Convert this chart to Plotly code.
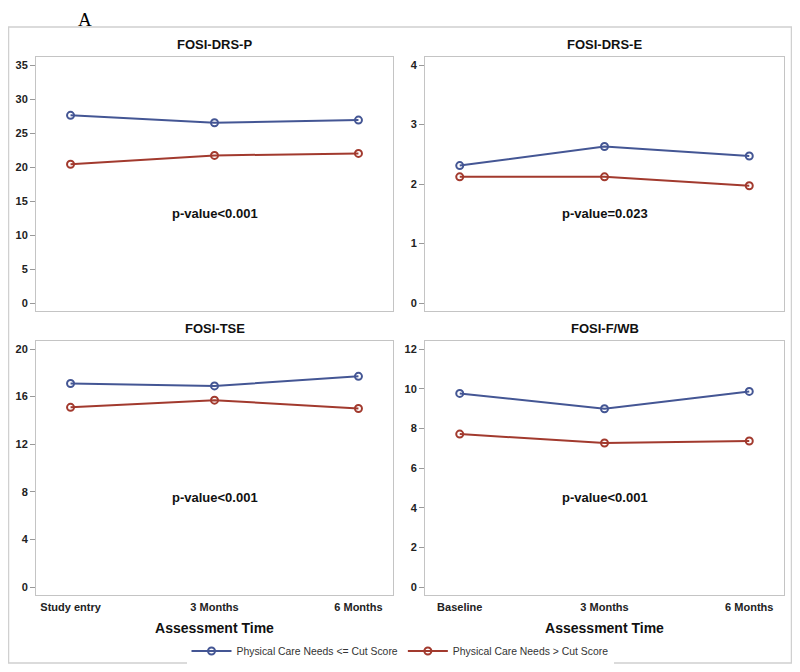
import plotly.graph_objects as go

# page has an 8px body margin; figure drawn inside it
OFF = 8
W, H = 784, 656


def px(x):
    return (x - OFF) / W


def py(y):
    return 1 - (y - OFF) / H


cats_left = ["Study entry", "3 Months", "6 Months"]
cats_right = ["Baseline", "3 Months", "6 Months"]

titles = ["FOSI-DRS-P", "FOSI-DRS-E", "FOSI-TSE", "FOSI-F/WB"]
pvalues = ["p-value<0.001", "p-value=0.023", "p-value<0.001", "p-value<0.001"]

low_drs_p = [27.6, 26.5, 26.9]
high_drs_p = [20.4, 21.7, 22.0]
low_drs_e = [2.31, 2.63, 2.47]
high_drs_e = [2.12, 2.12, 1.97]
low_tse = [17.1, 16.9, 17.7]
high_tse = [15.1, 15.7, 15.0]
low_fwb = [9.76, 8.99, 9.86]
high_fwb = [7.71, 7.26, 7.36]

series_names = ["Physical Care Needs <= Cut Score", "Physical Care Needs > Cut Score"]
colors = ["#445694", "#A23A2E"]

y_ticks = [[0, 5, 10, 15, 20, 25, 30, 35], [0, 1, 2, 3, 4],
           [0, 4, 8, 12, 16, 20], [0, 2, 4, 6, 8, 10, 12]]
y_max = [35, 4, 20, 12]

panels = [
    (cats_left, low_drs_p, high_drs_p),
    (cats_right, low_drs_e, high_drs_e),
    (cats_left, low_tse, high_tse),
    (cats_right, low_fwb, high_fwb),
]

# page-pixel boxes (left, right, top, bottom)
boxes = [(36, 393, 57, 311), (425, 784, 57, 311),
         (36, 393, 341, 595), (425, 784, 341, 595)]

fig = go.Figure()
frame_col = "#c4c4c4"
font_fam = "Arial, Liberation Sans, sans-serif"

for i, (cats, lo, hi) in enumerate(panels):
    n = "" if i == 0 else str(i + 1)
    xa, ya = "x" + n, "y" + n
    for vals, col, name in zip([lo, hi], colors, series_names):
        fig.add_trace(go.Scatter(
            x=cats, y=vals, mode="lines+markers", name=name,
            xaxis=xa, yaxis=ya, showlegend=(i == 0),
            line=dict(color=col, width=2),
            marker=dict(symbol="circle-open", size=7, color=col, line=dict(width=2)),
        ))
    l, r, t, b = boxes[i]
    span_px = (b - t) - 16
    unit = span_px / y_max[i]
    pad = 8 / unit
    show_x = i >= 2
    xdict = dict(
        domain=[px(l), px(r)], anchor=ya, type="category",
        range=[-0.24, 2.24], showgrid=False, zeroline=False,
        showline=True, mirror=True, linecolor=frame_col, linewidth=1,
        ticks="", showticklabels=show_x,
        tickfont=dict(family=font_fam, size=11, color="#222"),
    )
    if show_x:
        xdict["tickvals"] = cats
        xdict["ticktext"] = ["<b>%s</b>" % c for c in cats]
        xdict["ticklabelstandoff"] = 2
        xdict["title"] = dict(text="<b>Assessment Time</b>",
                              font=dict(family=font_fam, size=14, color="#111"), standoff=10)
    fig.layout["xaxis" + n] = xdict
    fig.layout["yaxis" + n] = dict(
        domain=[py(b), py(t)], anchor=xa,
        range=[-pad, y_max[i] + pad], tickvals=y_ticks[i],
        ticktext=["<b>%d</b>" % v for v in y_ticks[i]],
        showgrid=False, zeroline=False,
        showline=True, mirror=True, linecolor=frame_col, linewidth=1,
        ticks="outside", ticklen=5, tickcolor="#999",
        tickfont=dict(family=font_fam, size=11, color="#222"),
    )
    fig.add_annotation(x=px((l + r) / 2), y=py(t - 13), xref="paper", yref="paper",
                       xanchor="center", yanchor="middle",
                       text="<b>%s</b>" % titles[i], showarrow=False,
                       font=dict(family=font_fam, size=13, color="#111"))
    fig.add_annotation(x=px((l + r) / 2), y=py(t + 156), xref="paper", yref="paper",
                       xanchor="center", yanchor="middle",
                       text="<b>%s</b>" % pvalues[i], showarrow=False,
                       font=dict(family=font_fam, size=13, color="#111"))

fig.add_annotation(x=px(85), y=1.0, xref="paper", yref="paper",
                   xanchor="center", yanchor="top", borderpad=0,
                   text="A", showarrow=False,
                   font=dict(family="Liberation Serif, Times New Roman, serif", size=19, color="#000"))

fig.add_shape(type="rect", xref="paper", yref="paper",
              x0=px(8.5), x1=px(791.5), y0=py(663), y1=py(27),
              line=dict(color="#d0d0d0", width=1.5))

fig.update_layout(
    width=W, height=H, margin=dict(l=0, r=0, t=0, b=0, autoexpand=False),
    paper_bgcolor="white", plot_bgcolor="white",
    legend=dict(orientation="h", x=0.5, xanchor="center", y=py(651), yanchor="middle",
                font=dict(family=font_fam, size=10.4, color="#333"), itemwidth=40),
    showlegend=True,
)

fig.write_html("out.html")
